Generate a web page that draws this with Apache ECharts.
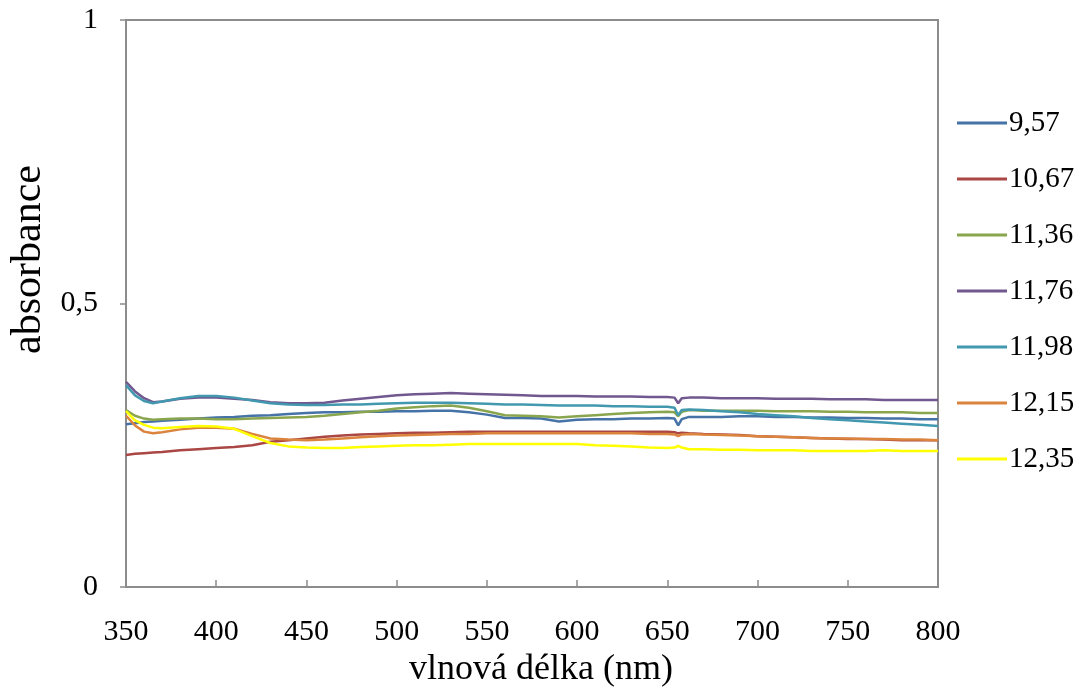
<!DOCTYPE html>
<html><head><meta charset="utf-8">
<script src="https://cdn.jsdelivr.net/npm/echarts@6/dist/echarts.min.js"></script>
<style>html,body{margin:0;padding:0;background:#fff}#c{width:1084px;height:689px}</style>
</head><body><div id="c"></div>
<script>
const wavelengths = [350,355,360,365,370,380,390,400,410,420,430,440,450,460,470,480,490,500,510,520,530,540,550,560,570,580,590,600,610,620,630,640,650,654,656,658,662,670,680,690,700,710,720,730,740,750,760,770,780,790,800];
const seriesNames = ['9,57','10,67','11,36','11,76','11,98','12,15','12,35'];
const s957 = [0.287,0.289,0.291,0.292,0.293,0.295,0.297,0.299,0.300,0.302,0.303,0.305,0.307,0.308,0.308,0.309,0.309,0.310,0.310,0.311,0.311,0.308,0.304,0.298,0.298,0.297,0.292,0.295,0.296,0.296,0.297,0.297,0.298,0.297,0.285,0.296,0.300,0.300,0.300,0.301,0.301,0.300,0.300,0.299,0.299,0.298,0.298,0.297,0.297,0.296,0.296];
const s1067 = [0.233,0.235,0.236,0.237,0.238,0.241,0.243,0.245,0.247,0.250,0.256,0.259,0.262,0.265,0.267,0.269,0.270,0.271,0.272,0.272,0.273,0.274,0.274,0.274,0.274,0.274,0.274,0.274,0.274,0.274,0.274,0.274,0.274,0.273,0.271,0.272,0.271,0.270,0.269,0.268,0.266,0.265,0.264,0.263,0.262,0.261,0.261,0.260,0.259,0.259,0.259];
const s1136 = [0.312,0.302,0.297,0.295,0.296,0.297,0.297,0.296,0.296,0.297,0.298,0.299,0.300,0.302,0.305,0.308,0.311,0.315,0.317,0.319,0.320,0.316,0.310,0.303,0.302,0.301,0.299,0.301,0.303,0.305,0.307,0.308,0.309,0.308,0.301,0.309,0.312,0.311,0.311,0.311,0.311,0.310,0.310,0.310,0.309,0.309,0.308,0.308,0.308,0.307,0.307];
const s1176 = [0.362,0.345,0.333,0.326,0.327,0.332,0.334,0.334,0.332,0.330,0.326,0.324,0.324,0.325,0.329,0.332,0.335,0.338,0.340,0.341,0.342,0.341,0.340,0.339,0.338,0.337,0.337,0.337,0.336,0.336,0.336,0.335,0.335,0.334,0.324,0.333,0.334,0.334,0.333,0.333,0.333,0.332,0.332,0.332,0.331,0.331,0.331,0.330,0.330,0.330,0.330];
const s1198 = [0.356,0.338,0.328,0.324,0.327,0.333,0.337,0.337,0.334,0.329,0.324,0.322,0.321,0.321,0.322,0.322,0.323,0.324,0.325,0.325,0.325,0.324,0.323,0.322,0.322,0.321,0.320,0.320,0.320,0.319,0.319,0.318,0.318,0.316,0.303,0.312,0.313,0.312,0.310,0.308,0.305,0.303,0.301,0.298,0.296,0.294,0.292,0.290,0.288,0.286,0.284];
const s1215 = [0.302,0.285,0.274,0.271,0.273,0.278,0.281,0.281,0.279,0.270,0.262,0.260,0.259,0.260,0.262,0.264,0.266,0.267,0.268,0.269,0.270,0.270,0.271,0.271,0.271,0.271,0.271,0.271,0.271,0.271,0.271,0.270,0.270,0.269,0.266,0.269,0.270,0.269,0.268,0.267,0.266,0.265,0.264,0.263,0.262,0.262,0.261,0.261,0.260,0.260,0.259];
const s1235 = [0.310,0.294,0.286,0.281,0.280,0.282,0.284,0.283,0.279,0.266,0.254,0.248,0.246,0.245,0.245,0.247,0.248,0.249,0.250,0.250,0.251,0.252,0.252,0.252,0.252,0.252,0.252,0.252,0.250,0.249,0.248,0.246,0.245,0.246,0.249,0.246,0.243,0.243,0.242,0.242,0.241,0.241,0.241,0.240,0.240,0.240,0.240,0.241,0.240,0.240,0.240];
const xTicks = [350,400,450,500,550,600,650,700,750,800];
const yTicks = [0,0.5,1];
const colors = ['#4572A7','#AA4643','#89A54E','#71588F','#4198AF','#DB843D','#FFFF00'];
const allValues = [s957,s1067,s1136,s1176,s1198,s1215,s1235];

const font = '"Liberation Serif","Times New Roman",serif';
const chart = echarts.init(document.getElementById('c'));
chart.setOption({
  animation:false,
  backgroundColor:'#fff',
  color:colors,
  grid:{left:126,top:20,width:812,height:567,outerBoundsMode:'none',containLabel:false,show:true,borderColor:'#8c8c8c',borderWidth:2,backgroundColor:'transparent'},
  legend:{
    orient:'vertical',left:952,top:103,itemGap:26,
    icon:'rect',itemWidth:50,itemHeight:3,
    textStyle:{fontFamily:font,fontSize:29,color:'#000',lineHeight:30,padding:[0,0,0,-3]},
    data:seriesNames
  },
  xAxis:{
    type:'value',min:350,max:800,interval:50,
    name:'vlnová délka (nm)',nameLocation:'middle',nameGap:60,
    nameTextStyle:{fontFamily:font,fontSize:36,color:'#000',padding:[0,0,0,18]},
    axisLine:{show:true,lineStyle:{color:'#8c8c8c',width:2}},
    axisTick:{show:true,inside:true,length:7,lineStyle:{color:'#8c8c8c',width:1.5}},
    axisLabel:{margin:30,fontFamily:font,fontSize:30,color:'#000',formatter:v=>xTicks.includes(v)?String(v):''},
    splitLine:{show:false}
  },
  yAxis:{
    type:'value',min:0,max:1,interval:0.5,
    name:'absorbance',nameLocation:'middle',nameGap:74,nameRotate:90,
    nameTextStyle:{fontFamily:font,fontSize:42,color:'#000',padding:[0,0,0,88]},
    axisLine:{show:true,lineStyle:{color:'#8c8c8c',width:2}},
    axisTick:{show:true,inside:false,length:6,lineStyle:{color:'#8c8c8c',width:1.5}},
    axisLabel:{margin:28,fontFamily:font,fontSize:30,color:'#000',formatter:v=>yTicks.includes(v)?String(v).replace('.',','):''},
    splitLine:{show:false}
  },
  series:seriesNames.map((n,i)=>({
    name:n,type:'line',showSymbol:false,symbol:'none',
    lineStyle:{width:2.5,color:colors[i]},itemStyle:{color:colors[i]},
    data:wavelengths.map((w,j)=>[w,allValues[i][j]])
  }))
});
</script></body></html>
